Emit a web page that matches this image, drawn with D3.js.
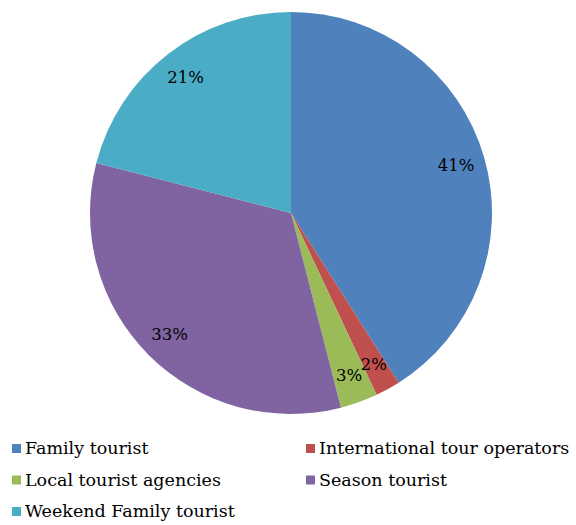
<!DOCTYPE html>
<html>
<head>
<meta charset="utf-8">
<script src="https://cdn.jsdelivr.net/npm/d3@7/dist/d3.min.js"></script>
<style>
  html, body { margin: 0; padding: 0; background: #fff; }
  svg { display: block; }
</style>
</head>
<body>
<svg id="chart" width="576" height="525"></svg>
<script>
// Tourist segments and their shares (percent)
const categories = ["Family tourist", "International tour operators", "Local tourist agencies", "Season tourist", "Weekend Family tourist"];
const shares = [41, 2, 3, 33, 21];
const colors = ["#4F81BD", "#C0504D", "#9BBB59", "#8064A2", "#4BACC6"];

const FONT = "'DejaVu Serif', 'Liberation Serif', serif";

const svg = d3.select("#chart");
const cx = 291, cy = 213, R = 201;

const data = categories.map((name, i) => ({ name, value: shares[i], color: colors[i] }));

const pie = d3.pie().value(d => d.value).sort(null);
const arc = d3.arc().innerRadius(0).outerRadius(R);
const labelArc = d3.arc().innerRadius(R * 0.855).outerRadius(R * 0.855);

const g = svg.append("g").attr("transform", `translate(${cx},${cy})`);
const arcs = pie(data);

g.selectAll("path.slice")
  .data(arcs)
  .join("path")
  .attr("class", "slice")
  .attr("d", arc)
  .attr("fill", d => d.data.color);

g.selectAll("text.pct")
  .data(arcs)
  .join("text")
  .attr("class", "pct")
  .attr("transform", d => `translate(${labelArc.centroid(d)})`)
  .attr("text-anchor", "middle")
  .attr("dy", "0.36em")
  .attr("font-family", FONT)
  .attr("font-size", 16.5)
  .attr("fill", "#000")
  .text(d => d.data.value + "%");

// Legend: two columns, three rows
const legend = svg.append("g");
const colX = [12, 306];
const rowY = [454, 485.5, 517];
const item = legend.selectAll("g.item")
  .data(data)
  .join("g")
  .attr("class", "item")
  .attr("transform", (d, i) => `translate(${colX[i % 2]},${rowY[Math.floor(i / 2)]})`);

item.append("rect")
  .attr("x", 0).attr("y", -10)
  .attr("width", 9).attr("height", 9)
  .attr("fill", d => d.color);

item.append("text")
  .attr("x", 13)
  .attr("y", 0)
  .attr("font-family", FONT)
  .attr("font-size", 17.5)
  .attr("fill", "#000")
  .text(d => d.name);
</script>
</body>
</html>
